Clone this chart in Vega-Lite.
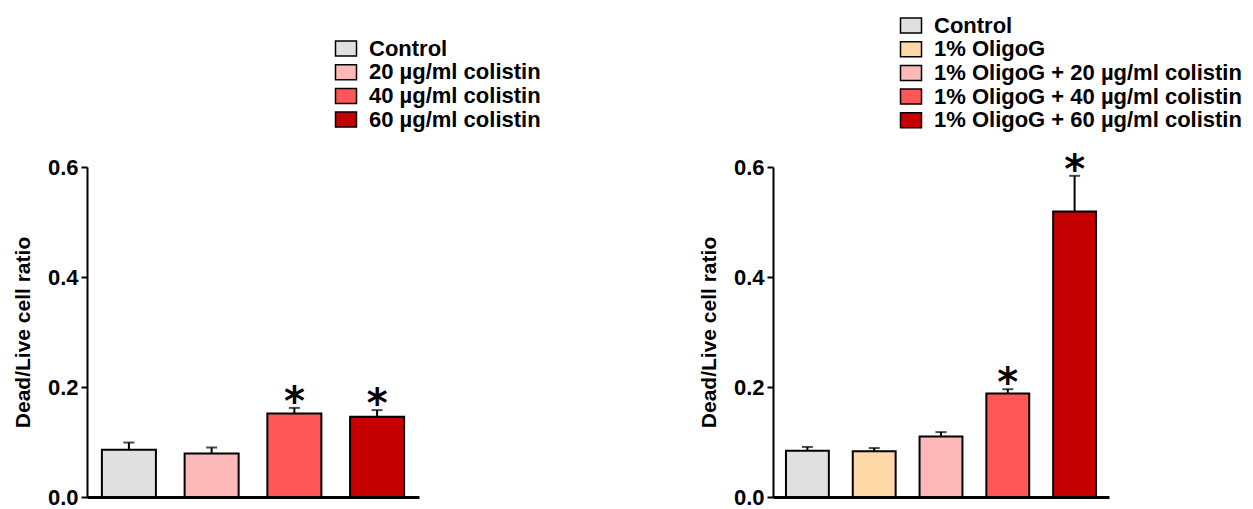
{
  "$schema": "https://vega.github.io/schema/vega-lite/v6.json",
  "padding": {"left": 12, "top": 14, "right": 5, "bottom": 5},
  "bounds": "flush",
  "spacing": 354,
  "background": "white",
  "config": {
    "view": {"stroke": null},
    "axis": {
      "grid": false,
      "domainColor": "black",
      "domainWidth": 2,
      "tickColor": "black",
      "tickWidth": 2,
      "tickSize": 6,
      "labelFont": "Liberation Sans",
      "labelFontWeight": "bold",
      "labelFontSize": 22,
      "labelColor": "black",
      "labelPadding": 3,
      "titleFont": "Liberation Sans",
      "titleFontWeight": "bold",
      "titleFontSize": 21,
      "titleColor": "black",
      "titlePadding": 14
    }
  },
  "resolve": {"scale": {"color": "independent", "y": "independent"}, "legend": {"color": "independent"}},
  "hconcat": [
    {
      "width": 332,
      "height": 330,
      "data": {"values": [
        {"group": "Control", "value": 0.086, "err": 0.099, "sig": ""},
        {"group": "20 µg/ml colistin", "value": 0.079, "err": 0.090, "sig": ""},
        {"group": "40 µg/ml colistin", "value": 0.152, "err": 0.162, "sig": "*"},
        {"group": "60 µg/ml colistin", "value": 0.146, "err": 0.158, "sig": "*"}
      ]},
      "encoding": {
        "x": {"field": "group", "type": "nominal", "sort": null,
          "scale": {"paddingInner": 0.347, "paddingOuter": 0.18},
          "axis": {"title": null, "labels": false, "ticks": false, "domainWidth": 3}}
      },
      "layer": [
        {
          "mark": {"type": "bar", "stroke": "black", "strokeWidth": 2},
          "encoding": {
            "y": {"field": "value", "type": "quantitative", "scale": {"domain": [0, 0.6]},
              "axis": {"values": [0, 0.2, 0.4, 0.6], "format": ".1f", "title": "Dead/Live cell ratio"}},
            "color": {"field": "group", "type": "nominal", "sort": null,
              "scale": {"domain": ["Control", "20 µg/ml colistin", "40 µg/ml colistin", "60 µg/ml colistin"],
                        "range": ["#e0e0e0", "#fdb8b8", "#ff5657", "#c40000"]},
              "legend": {"orient": "none", "legendX": 248, "legendY": -129.5, "title": null,
                "symbolType": "M-1.4,-1H1.4V1H-1.4Z", "symbolSize": 225,
                "symbolStrokeColor": "black", "symbolStrokeWidth": 1.5,
                "labelFont": "Liberation Sans", "labelFontWeight": "bold", "labelFontSize": 22,
                "labelColor": "black", "labelLimit": 0, "labelOffset": 12, "rowPadding": 1.7, "padding": 0}}
          }
        },
        {
          "mark": {"type": "rule", "color": "black", "strokeWidth": 2},
          "encoding": {
            "y": {"field": "value", "type": "quantitative", "title": "Dead/Live cell ratio"},
            "y2": {"field": "err"}
          }
        },
        {
          "mark": {"type": "tick", "color": "black", "thickness": 2, "size": 11},
          "encoding": {
            "y": {"field": "err", "type": "quantitative", "title": "Dead/Live cell ratio"}
          }
        },
        {
          "mark": {"type": "text", "font": "DejaVu Sans", "fontWeight": "bold", "fontSize": 40, "baseline": "alphabetic", "dy": 7, "color": "black"},
          "encoding": {
            "y": {"field": "err", "type": "quantitative", "title": "Dead/Live cell ratio"},
            "text": {"field": "sig"}
          }
        }
      ]
    },
    {
      "width": 336,
      "height": 330,
      "data": {"values": [
        {"group": "Control", "value": 0.084, "err": 0.091, "sig": ""},
        {"group": "1% OligoG", "value": 0.083, "err": 0.089, "sig": ""},
        {"group": "1% OligoG + 20 µg/ml colistin", "value": 0.110, "err": 0.118, "sig": ""},
        {"group": "1% OligoG + 40 µg/ml colistin", "value": 0.188, "err": 0.196, "sig": "*"},
        {"group": "1% OligoG + 60 µg/ml colistin", "value": 0.519, "err": 0.584, "sig": "*"}
      ]},
      "encoding": {
        "x": {"field": "group", "type": "nominal", "sort": null,
          "scale": {"paddingInner": 0.358, "paddingOuter": 0.194},
          "axis": {"title": null, "labels": false, "ticks": false, "domainWidth": 3}}
      },
      "layer": [
        {
          "mark": {"type": "bar", "stroke": "black", "strokeWidth": 2},
          "encoding": {
            "y": {"field": "value", "type": "quantitative", "scale": {"domain": [0, 0.6]},
              "axis": {"values": [0, 0.2, 0.4, 0.6], "format": ".1f", "title": "Dead/Live cell ratio"}},
            "color": {"field": "group", "type": "nominal", "sort": null,
              "scale": {"domain": ["Control", "1% OligoG", "1% OligoG + 20 µg/ml colistin", "1% OligoG + 40 µg/ml colistin", "1% OligoG + 60 µg/ml colistin"],
                        "range": ["#e0e0e0", "#ffd8a8", "#fdb8b8", "#ff5657", "#c40000"]},
              "legend": {"orient": "none", "legendX": 127, "legendY": -152.5, "title": null,
                "symbolType": "M-1.4,-1H1.4V1H-1.4Z", "symbolSize": 225,
                "symbolStrokeColor": "black", "symbolStrokeWidth": 1.5,
                "labelFont": "Liberation Sans", "labelFontWeight": "bold", "labelFontSize": 22,
                "labelColor": "black", "labelLimit": 0, "labelOffset": 12, "rowPadding": 1.7, "padding": 0}}
          }
        },
        {
          "mark": {"type": "rule", "color": "black", "strokeWidth": 2},
          "encoding": {
            "y": {"field": "value", "type": "quantitative", "title": "Dead/Live cell ratio"},
            "y2": {"field": "err"}
          }
        },
        {
          "mark": {"type": "tick", "color": "black", "thickness": 2, "size": 11},
          "encoding": {
            "y": {"field": "err", "type": "quantitative", "title": "Dead/Live cell ratio"}
          }
        },
        {
          "mark": {"type": "text", "font": "DejaVu Sans", "fontWeight": "bold", "fontSize": 40, "baseline": "alphabetic", "dy": 7, "color": "black"},
          "encoding": {
            "y": {"field": "err", "type": "quantitative", "title": "Dead/Live cell ratio"},
            "text": {"field": "sig"}
          }
        }
      ]
    }
  ]
}
